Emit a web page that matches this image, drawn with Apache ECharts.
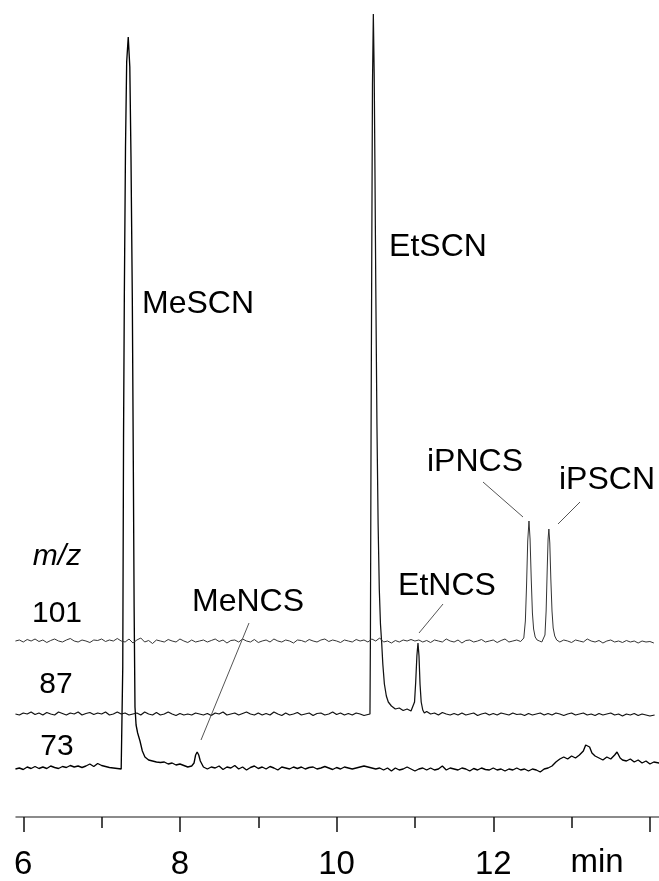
<!DOCTYPE html>
<html>
<head>
<meta charset="utf-8">
<script src="https://cdn.jsdelivr.net/npm/echarts@6/dist/echarts.min.js"></script>
<style>
html,body{margin:0;padding:0;background:#fff;}
#chart{width:659px;height:881px;}
</style>
</head>
<body>
<div id="chart"></div>
<script>
// ---- data (retention time in min, intensity in arbitrary units above each trace's baseline) ----
const traceLabels = ['101', '87', '73'];
const traceOffsets = [176, 103, 50];   // display offset of each trace baseline
const majorTicks = [6, 8, 10, 12, 14];
const labelTicks = [6, 8, 10, 12];
const minorTicks = [7, 9, 11, 13];
const peakNames = ['MeSCN', 'EtSCN', 'MeNCS', 'EtNCS', 'iPNCS', 'iPSCN'];

const mz101 = [
[5.90,0],[5.95,1],[6.00,-1],[6.05,1.5],[6.10,0],[6.15,2],[6.20,-0.5],[6.25,1],[6.30,-1.5],[6.35,0.5],
[6.40,2],[6.45,0],[6.50,-1],[6.55,1],[6.60,2.5],[6.65,0],[6.70,-1],[6.75,1],[6.80,0],[6.85,-1.5],
[6.90,1],[6.95,0.5],[7.00,2],[7.05,-0.5],[7.10,1],[7.15,0],[7.20,2.5],[7.25,0],[7.30,-1],[7.35,2],
[7.40,-2],[7.45,1],[7.50,3],[7.55,-1],[7.60,0.5],[7.65,-2.5],[7.70,1],[7.75,0],[7.80,-1],[7.85,1.5],
[7.90,0],[7.95,-1],[8.00,2],[8.05,0],[8.10,-1.5],[8.15,1],[8.20,-1],[8.25,0],[8.30,1],[8.35,-1],
[8.40,0.5],[8.45,2],[8.50,-0.5],[8.55,1],[8.60,-2],[8.65,0.5],[8.70,1],[8.75,-1],[8.80,2],[8.85,0],
[8.90,-1],[8.95,1.5],[9.00,-1.5],[9.05,0],[9.10,1],[9.15,-1],[9.20,2],[9.25,0],[9.30,-1],[9.35,1],
[9.40,0],[9.45,-2],[9.50,1],[9.55,0.5],[9.60,-1],[9.65,1.5],[9.70,0],[9.75,-1],[9.80,1],[9.85,2],
[9.90,-0.5],[9.95,1],[10.00,0],[10.05,-1.5],[10.10,1],[10.15,0],[10.20,-1],[10.25,1.5],[10.30,0],[10.35,1],
[10.40,-1],[10.45,2],[10.50,0],[10.55,3],[10.60,-1],[10.65,0],[10.70,-2],[10.75,0.5],[10.80,-1],[10.85,1],
[10.90,0],[10.95,1.5],[11.00,0],[11.05,1],[11.10,-1],[11.15,0.5],[11.20,-1.5],[11.25,1],[11.30,0],[11.35,-1],
[11.40,2],[11.45,0],[11.50,-1],[11.55,1],[11.60,-2],[11.65,0.5],[11.70,1],[11.75,-1],[11.80,0],[11.85,1.5],
[11.90,-1],[11.95,0],[12.00,1],[12.05,-1.5],[12.10,0.5],[12.15,2],[12.20,-1],[12.25,0],[12.30,1],[12.35,-0.5],
[12.39,3],[12.41,20],[12.425,55],[12.44,100],[12.456,120],[12.47,102],[12.485,62],[12.50,28],[12.515,12],[12.535,4],
[12.56,1],[12.59,0],[12.62,-1],[12.645,1],[12.66,6],[12.675,30],[12.69,75],[12.70,102],[12.71,112],[12.722,98],
[12.735,62],[12.75,30],[12.765,13],[12.785,5],[12.81,1],[12.85,-1],[12.90,1],[12.95,0],[13.00,-1.5],[13.05,1],
[13.10,0],[13.15,-1],[13.20,2],[13.25,0],[13.30,-1],[13.35,0.5],[13.40,-2],[13.45,0],[13.50,1],[13.55,-1],
[13.60,0],[13.65,-1.5],[13.70,0.5],[13.75,-1],[13.80,0],[13.85,-2],[13.90,0],[13.95,-1],[14.00,-0.5],[14.05,-2]
];

const mz87 = [
[5.90,0],[5.95,-1],[6.00,1],[6.05,0],[6.10,2],[6.15,-0.5],[6.20,1],[6.25,-1],[6.30,1.5],[6.35,0],
[6.40,-1],[6.45,2],[6.50,0.5],[6.55,-1],[6.60,1],[6.65,0],[6.70,2],[6.75,-1],[6.80,0.5],[6.85,1.5],
[6.90,-0.5],[6.95,1],[7.00,0],[7.05,2],[7.10,-1],[7.15,0],[7.20,2],[7.25,0],[7.30,1],[7.35,-1],
[7.40,0],[7.45,1],[7.50,-1],[7.55,2],[7.60,0],[7.65,-1],[7.70,1.5],[7.75,-1],[7.80,0],[7.85,2],
[7.90,0],[7.95,-1.5],[8.00,0.5],[8.05,-1],[8.10,0],[8.15,-1],[8.20,1],[8.25,0],[8.30,-1],[8.35,0.5],
[8.40,-1.5],[8.45,1],[8.50,0],[8.55,2],[8.60,-1],[8.65,0],[8.70,1],[8.75,-1],[8.80,0.5],[8.85,2],
[8.90,0],[8.95,-1],[9.00,1],[9.05,-1],[9.10,0.5],[9.15,-1],[9.20,2],[9.25,0],[9.30,-1.5],[9.35,1],
[9.40,-1],[9.45,0],[9.50,1.5],[9.55,-1],[9.60,0],[9.65,1],[9.70,-1.5],[9.75,0.5],[9.80,1],[9.85,-1],
[9.90,0],[9.95,2],[10.00,-0.5],[10.05,1],[10.10,-1],[10.15,0.5],[10.20,-1],[10.25,1],[10.30,0],[10.35,-1.5],
[10.40,-0.5],[10.426,0],[10.432,80],[10.44,280],[10.448,440],[10.458,630],[10.469,700],[10.48,640],[10.49,540],[10.50,430],
[10.515,290],[10.53,190],[10.545,125],[10.56,90],[10.575,72],[10.59,50],[10.61,30],[10.635,18],[10.66,12],[10.70,8],
[10.75,5],[10.80,6],[10.85,3.5],[10.90,5],[10.95,3],[10.975,4],[10.995,12],[11.01,32],[11.025,58],[11.039,71],
[11.052,58],[11.065,30],[11.08,12],[11.10,4],[11.12,1],[11.15,2.5],[11.20,0],[11.25,1],[11.30,-1],[11.35,1.5],
[11.40,0],[11.45,-1],[11.50,0.5],[11.55,-1],[11.60,1],[11.65,-1],[11.70,0],[11.75,1],[11.80,-1.5],[11.85,0],
[11.90,1],[11.95,-1],[12.00,0.5],[12.05,-1],[12.10,1],[12.15,0],[12.20,-1],[12.25,1],[12.30,-0.5],[12.35,0],
[12.40,-1.5],[12.45,0.5],[12.50,-1],[12.55,0],[12.60,1],[12.65,-1],[12.70,0.5],[12.75,-1],[12.80,1],[12.85,0],
[12.90,-1.5],[12.95,0],[13.00,1],[13.05,-1],[13.10,0],[13.15,1],[13.20,-1],[13.25,0],[13.30,-1.5],[13.35,0.5],
[13.40,-1],[13.45,0],[13.50,1],[13.55,-1],[13.60,0],[13.65,-2],[13.70,0],[13.75,-1],[13.80,0.5],[13.85,-1.5],
[13.90,0],[13.95,-1],[14.00,-2],[14.06,-1]
];

const mz73 = [
[5.90,-2],[5.95,-1],[6.00,-2.5],[6.05,0],[6.10,-1.5],[6.15,0.5],[6.20,-1.5],[6.25,0],[6.30,-1.5],[6.35,1],
[6.40,-0.5],[6.45,-1.5],[6.50,0.5],[6.55,-0.5],[6.60,1.5],[6.65,0],[6.70,1],[6.75,-0.5],[6.80,1],[6.85,3],
[6.90,0.5],[6.95,3.5],[7.00,1.5],[7.05,0.5],[7.10,-0.5],[7.15,-1],[7.20,-1.5],[7.25,-2],[7.264,-2],[7.27,100],
[7.28,330],[7.29,470],[7.305,620],[7.32,705],[7.34,730],[7.36,700],[7.375,610],[7.392,468],[7.405,300],[7.415,160],
[7.426,60],[7.44,42],[7.46,34],[7.49,26],[7.52,16],[7.553,10],[7.60,7],[7.65,6],[7.70,5],[7.75,4.5],
[7.80,5],[7.85,3],[7.90,4],[7.95,2],[8.00,3],[8.05,1.5],[8.10,0],[8.15,1],[8.18,4],[8.20,12],
[8.22,15],[8.24,12],[8.26,6],[8.28,3],[8.30,0],[8.35,-2],[8.40,0],[8.45,-1],[8.50,1],[8.55,-2.5],
[8.60,0],[8.65,-1],[8.70,1.5],[8.75,-2],[8.80,0],[8.85,-3],[8.90,-0.5],[8.95,1],[9.00,-1.5],[9.05,0],
[9.10,-2],[9.15,0.5],[9.20,-1],[9.25,-3],[9.30,0],[9.35,-1],[9.40,-2],[9.45,0],[9.50,-1.5],[9.55,0],
[9.60,-2],[9.65,-0.5],[9.70,0],[9.75,-2],[9.80,-1],[9.85,0.5],[9.90,-1],[9.95,-2.5],[10.00,-0.5],[10.05,-2],
[10.10,0],[10.15,-1],[10.20,-2],[10.25,-1],[10.30,0],[10.35,1],[10.40,0],[10.45,-1],[10.50,-2],[10.55,-1],
[10.60,-3],[10.65,-1],[10.70,-4],[10.75,-1],[10.80,-3],[10.85,-2],[10.90,0],[10.95,-2],[11.00,-4],[11.05,-2],
[11.10,-1],[11.15,-3],[11.20,-1],[11.25,-3],[11.30,-2],[11.35,1],[11.40,-3],[11.45,-1],[11.50,-2],[11.55,-3],
[11.60,-1],[11.65,-2],[11.70,-4],[11.75,-1.5],[11.80,-3],[11.85,-1],[11.90,-2.5],[11.95,-3],[12.00,-1],[12.05,-3],
[12.10,-2],[12.15,-4],[12.20,-2],[12.25,-3],[12.30,-1],[12.35,-3],[12.40,-2],[12.45,-4],[12.50,-2],[12.55,-3],
[12.60,-5],[12.65,-2],[12.70,-1],[12.75,1],[12.80,5],[12.85,8],[12.90,10],[12.95,8],[13.00,11],[13.05,9],
[13.10,12],[13.15,16],[13.18,22],[13.20,24],[13.23,20],[13.26,14],[13.30,11],[13.35,9],[13.40,7],[13.45,10],
[13.50,8],[13.55,12],[13.58,15],[13.62,9],[13.65,7],[13.70,6],[13.75,8],[13.80,5],[13.85,7],[13.90,4],
[13.95,6],[14.00,3],[14.05,5],[14.12,4]
];

// ---- chart ----
const traces = [mz101, mz87, mz73];
const traceStyles = [
  {color: '#333333', width: 1},
  {color: '#111111', width: 1.25},
  {color: '#000000', width: 1.35}
];
const FONT = '"Liberation Sans", Arial, sans-serif';

const chart = echarts.init(document.getElementById('chart'), null, {renderer: 'canvas'});

const series = traces.map((tr, i) => ({
  type: 'line',
  name: 'm/z ' + traceLabels[i],
  data: tr.map(p => [p[0], p[1] + traceOffsets[i]]),
  showSymbol: false,
  symbol: 'none',
  smooth: false,
  sampling: null,
  lineStyle: {color: traceStyles[i].color, width: traceStyles[i].width},
  z: 3 - i,
  animation: false
}));

// annotation texts (pixel placement) and leader lines
const textEls = [];
function txt(s, x, y, size, italic) {
  textEls.push({
    type: 'text', x: x, y: y, z: 10,
    style: {text: s, fill: '#000', font: (italic ? 'italic ' : '') + size + 'px ' + FONT,
            textAlign: 'center', textVerticalAlign: 'middle'}
  });
}
function leader(x1, y1, x2, y2) {
  textEls.push({
    type: 'line', z: 9,
    shape: {x1: x1, y1: y1, x2: x2, y2: y2},
    style: {stroke: '#555', lineWidth: 1}
  });
}
txt('m/z', 57, 557, 30, true);
txt(traceLabels[0], 57, 614, 30);
txt(traceLabels[1], 56, 685, 30);
txt(traceLabels[2], 57, 747, 30);

txt(peakNames[0], 198, 304, 32);
txt(peakNames[1], 438, 247, 32);
txt(peakNames[2], 248, 602, 32);
txt(peakNames[3], 447, 586, 32);
txt(peakNames[4], 475, 462, 32);
txt(peakNames[5], 607, 480, 32);
leader(249, 623, 201, 740);
leader(443, 604, 419, 633);
leader(483, 482, 523, 517);
leader(580, 502, 558, 524);

txt('min', 597, 863, 33);

const xMin = 5.907, xMax = 14.116;

chart.setOption({
  animation: false,
  backgroundColor: '#fff',
  grid: {left: 16, right: 0, top: 0, bottom: 64, containLabel: false},
  xAxis: [{
    type: 'value', min: xMin, max: xMax, position: 'bottom',
    axisLine: {show: true, lineStyle: {color: '#666', width: 1.5}},
    axisTick: {show: true, inside: false, length: 15, customValues: majorTicks,
               lineStyle: {color: '#111', width: 1.5}},
    axisLabel: {show: true, customValues: labelTicks, margin: 31, fontSize: 33,
                fontFamily: FONT, color: '#000', formatter: v => String(v)},
    splitLine: {show: false}
  }, {
    type: 'value', min: xMin, max: xMax, position: 'bottom', offset: 0,
    axisLine: {show: false},
    axisTick: {show: true, inside: false, length: 11, customValues: minorTicks,
               lineStyle: {color: '#111', width: 1.5}},
    axisLabel: {show: false},
    splitLine: {show: false}
  }],
  yAxis: {
    type: 'value', min: 0, max: 817, show: false,
    splitLine: {show: false}
  },
  series: series,
  graphic: textEls
});
</script>
</body>
</html>
